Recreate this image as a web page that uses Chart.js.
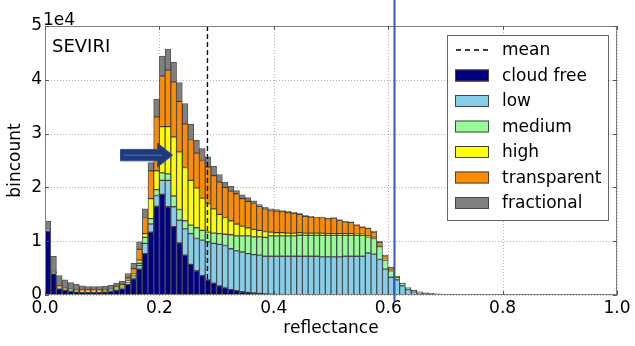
<!DOCTYPE html>
<html>
<head>
<meta charset="utf-8">
<script src="https://cdn.jsdelivr.net/npm/chart.js@4.4.1/dist/chart.umd.min.js"></script>
<style>
  html, body { margin: 0; padding: 0; background: #fff; }
  #wrap { width: 635px; height: 346px; }
</style>
</head>
<body>
<div id="wrap"><canvas id="c" width="635" height="346"></canvas></div>
<script>
// ── Data (bincount per 0.01 reflectance bin, bins 0.00 … 0.80) ────────────────
const binWidth = 0.01;
const cloudFree = [
  11900,4000,1200,900,700,600,500,500,500,500,
  600,700,900,1200,2000,3000,4800,7700,11700,16500,
  18700,16400,12700,9700,7400,5700,4500,3600,2800,2200,
  1700,1400,1000,800,600,500,400,300,200,150,
  100,100,50,50,50,30,0,0,0,0,
  0,0,0,0,0,0,0,0,0,0,
  0,0,0,0,0,0,0,0,0,0,
  0,0,0,0,0,0,0,0,0,0
];
const low = [
  100,100,100,100,100,100,100,100,100,100,
  100,100,150,200,300,400,700,1900,1500,2000,
  2600,4900,3700,4200,4900,5700,6000,6600,7100,7400,
  7700,7800,7600,7400,7400,7200,7100,7100,7000,7050,
  7100,7100,7150,7150,7150,7170,7200,7200,7100,7100,
  7100,7100,7200,7200,7200,7200,7800,7600,6600,4800,
  3300,2800,1700,1000,600,400,250,200,120,100,
  70,60,50,40,40,30,20,20,20,20
];
const medium = [
  50,50,50,50,50,50,50,50,50,50,
  50,50,100,100,100,200,400,1100,1000,1100,
  1400,1200,2000,2000,1500,1600,2000,1800,1800,1900,
  2000,2100,2600,2800,3000,3300,3300,3400,3500,3800,
  3800,3800,3800,3800,3900,3900,3900,3900,4000,4000,
  4000,4000,3900,3900,3900,3900,3000,2900,2400,1700,
  1200,500,400,300,200,150,100,50,40,30,
  20,20,20,10,10,10,10,10,10,10
];
const high = [
  50,50,50,50,50,50,50,50,50,50,
  50,50,100,100,200,300,600,700,3700,3500,
  8600,8800,11000,10700,9900,8300,7400,6000,5300,4500,
  3600,3100,2600,2200,1800,1500,1400,1200,1100,700,
  600,600,500,500,500,400,400,400,400,300,
  300,300,300,300,200,200,200,200,200,100,
  100,0,0,0,0,0,0,0,0,0,
  0,0,0,0,0,0,0,0,0,0
];
const transparent = [
  100,200,300,300,300,250,250,250,250,250,
  250,300,400,400,600,1000,2000,3000,5200,10000,
  9400,10500,10200,9400,8100,7600,6500,7000,6800,6200,
  6000,5600,5500,5600,5100,4900,4800,4500,4200,4000,
  4000,3900,3800,3700,3400,3100,3000,2900,2900,2800,
  2900,2500,2200,2100,1700,1300,1400,1000,600,700,
  500,150,50,0,0,0,0,0,0,0,
  0,0,0,0,0,0,0,0,0,0
];
const fractional = [
  1500,2800,1900,1400,1100,950,750,600,600,600,
  550,600,550,600,800,1000,1400,1600,1500,3300,
  3700,3900,3700,3500,3800,2800,2400,2200,1900,1700,
  1400,1000,900,600,700,700,500,300,300,300,
  300,200,300,200,200,200,100,100,100,100,
  100,100,100,100,100,100,100,200,200,100,
  100,50,50,100,100,50,50,50,40,20,
  10,10,10,10,10,0,0,0,0,0
];
const seriesNames  = ['cloud free','low','medium','high','transparent','fractional'];
const seriesColors = ['#000080','#87ceeb','#98fb98','#ffff00','#ff8c00','#808080'];
const seriesValues = [cloudFree, low, medium, high, transparent, fractional];

const xTicks = [0.0, 0.2, 0.4, 0.6, 0.8, 1.0];
const yTicks = [0, 10000, 20000, 30000, 40000, 50000];
const meanReflectance = 0.284;
const markerLine = 0.611;
const arrowFrom = { x: 0.132, y: 26000 }, arrowTo = { x: 0.223, y: 26000 };

const binCenters = cloudFree.map((_, i) => +(binWidth * i + binWidth / 2).toFixed(3));

// ── Overlay: grid, frame, lines, arrow, texts, legend ─────────────────────────
const overlay = {
  id: 'overlay',
  beforeDatasetsDraw(chart) {
    const { ctx, chartArea: a, scales: { x, y } } = chart;
    ctx.save();
    ctx.strokeStyle = '#b4b4b4'; ctx.lineWidth = 1; ctx.setLineDash([1, 2]);
    xTicks.forEach(v => { const px = Math.round(x.getPixelForValue(v)) + 0.5;
      ctx.beginPath(); ctx.moveTo(px, a.top); ctx.lineTo(px, a.bottom); ctx.stroke(); });
    yTicks.forEach(v => { const py = Math.round(y.getPixelForValue(v)) + 0.5;
      ctx.beginPath(); ctx.moveTo(a.left, py); ctx.lineTo(a.right, py); ctx.stroke(); });
    ctx.restore();
  },
  afterDatasetsDraw(chart) {
    const { ctx, chartArea: a, scales: { x, y } } = chart;
    ctx.save();
    // mean line
    const mx = x.getPixelForValue(meanReflectance);
    ctx.strokeStyle = '#000'; ctx.lineWidth = 1.4; ctx.setLineDash([5, 3]);
    ctx.beginPath(); ctx.moveTo(mx, a.top); ctx.lineTo(mx, a.bottom); ctx.stroke();
    ctx.setLineDash([]);

    // frame + inward ticks
    ctx.strokeStyle = '#808080'; ctx.lineWidth = 1;
    ctx.strokeRect(a.left + 0.5, a.top + 0.5, a.right - a.left - 1, a.bottom - a.top - 1);
    ctx.strokeStyle = '#555';
    xTicks.forEach(v => { const px = Math.round(x.getPixelForValue(v)) + 0.5;
      ctx.beginPath(); ctx.moveTo(px, a.bottom); ctx.lineTo(px, a.bottom - 4);
      ctx.moveTo(px, a.top); ctx.lineTo(px, a.top + 4); ctx.stroke(); });
    yTicks.forEach(v => { const py = Math.round(y.getPixelForValue(v)) + 0.5;
      ctx.beginPath(); ctx.moveTo(a.left, py); ctx.lineTo(a.left + 4, py);
      ctx.moveTo(a.right, py); ctx.lineTo(a.right - 4, py); ctx.stroke(); });

    // blue marker line (runs past the axes)
    const bx = x.getPixelForValue(markerLine);
    ctx.strokeStyle = '#3a58b8'; ctx.lineWidth = 2;
    ctx.beginPath(); ctx.moveTo(bx, 0); ctx.lineTo(bx, a.bottom + 6); ctx.stroke();

    // arrow
    const x0 = x.getPixelForValue(arrowFrom.x), x1 = x.getPixelForValue(arrowTo.x);
    const ay = y.getPixelForValue(arrowFrom.y);
    const hb = x1 - 15, bh = 5.7, hh = 12;
    ctx.fillStyle = '#1f3a7c'; ctx.strokeStyle = '#2f4f94'; ctx.lineWidth = 1;
    ctx.beginPath();
    ctx.moveTo(x0, ay - bh); ctx.lineTo(hb, ay - bh); ctx.lineTo(hb, ay - hh);
    ctx.lineTo(x1, ay); ctx.lineTo(hb, ay + hh); ctx.lineTo(hb, ay + bh);
    ctx.lineTo(x0, ay + bh); ctx.closePath(); ctx.fill(); ctx.stroke();
    ctx.strokeStyle = '#4266ad'; ctx.lineWidth = 1.2;
    ctx.beginPath(); ctx.moveTo(x0 + 3, ay); ctx.lineTo(hb + 4, ay); ctx.stroke();

    // texts
    ctx.fillStyle = '#000'; ctx.textBaseline = 'alphabetic'; ctx.textAlign = 'left';
    ctx.font = '17px "DejaVu Sans"';
    ctx.fillText('1e4', a.left - 2, a.top - 1);
    ctx.font = '18px "DejaVu Sans"';
    ctx.fillText('SEVIRI', a.left + 7, a.top + 26);

    // legend
    const lx = 447, ly = 35, lw = 161, lh = 185, rowH = 25.5, row0 = 50;
    ctx.fillStyle = '#fff'; ctx.fillRect(lx, ly, lw, lh);
    ctx.strokeStyle = '#666'; ctx.lineWidth = 1;
    ctx.strokeRect(lx + 0.5, ly + 0.5, lw, lh);
    ctx.font = '17px "DejaVu Sans"'; ctx.textBaseline = 'middle';
    ctx.strokeStyle = '#000'; ctx.lineWidth = 1.4; ctx.setLineDash([5, 4]);
    ctx.beginPath(); ctx.moveTo(456, row0); ctx.lineTo(489, row0); ctx.stroke();
    ctx.setLineDash([]);
    ctx.fillStyle = '#000'; ctx.fillText('mean', 502, row0 + 1);
    chart.data.datasets.forEach((ds, i) => {
      const ry = row0 + rowH * (i + 1);
      ctx.fillStyle = ds.backgroundColor;
      ctx.fillRect(455, ry - 6, 34, 12);
      ctx.strokeStyle = '#444'; ctx.lineWidth = 1;
      ctx.strokeRect(455.5, ry - 5.5, 33, 11);
      ctx.fillStyle = '#000'; ctx.fillText(ds.label, 502, ry + 1);
    });
    ctx.restore();
  }
};

Chart.defaults.font.family = '"DejaVu Sans", sans-serif';
Chart.defaults.color = '#000';

new Chart(document.getElementById('c'), {
  type: 'bar',
  data: {
    datasets: seriesNames.map((name, s) => ({
      label: name,
      data: binCenters.map((c, i) => ({ x: c, y: seriesValues[s][i] || null })),
      backgroundColor: seriesColors[s],
      borderColor: 'rgba(30,30,30,0.75)',
      borderWidth: 1,
      borderSkipped: false,
      barPercentage: 1.0,
      categoryPercentage: 1.0
    }))
  },
  options: {
    responsive: false,
    animation: false,
    layout: { padding: { left: 0, right: 18, top: 26, bottom: 0 } },
    plugins: { legend: { display: false }, tooltip: { enabled: false } },
    scales: {
      x: {
        type: 'linear', stacked: true, offset: false, min: 0, max: 1,
        grid: { display: false, drawTicks: false, offset: false }, border: { display: false },
        ticks: { stepSize: 0.2, padding: 3, maxRotation: 0, autoSkip: false,
                 font: { size: 17 }, color: '#000', callback: v => v.toFixed(1) },
        title: { display: true, text: 'reflectance', font: { size: 17 }, padding: { top: 0, bottom: 7 } },
        afterFit: s => { s.height = 51; }
      },
      y: {
        stacked: true, min: 0, max: 50000,
        grid: { display: false, drawTicks: false }, border: { display: false },
        ticks: { stepSize: 10000, padding: 3, font: { size: 17 }, color: '#000',
                 callback: v => String(v / 10000) },
        title: { display: true, text: 'bincount', font: { size: 17 }, padding: { top: 5, bottom: 0 } },
        afterFit: s => { s.width = 45; }
      }
    }
  },
  plugins: [overlay]
});
</script>
</body>
</html>
